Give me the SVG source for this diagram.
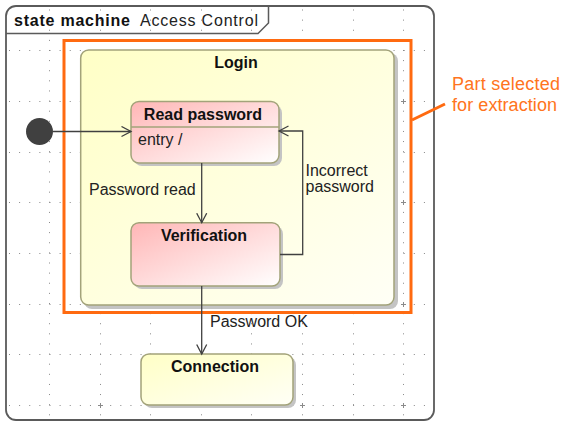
<svg xmlns="http://www.w3.org/2000/svg" width="566" height="422" viewBox="0 0 566 422">
<defs>
<style>
.grid{stroke:#888888;stroke-width:1;stroke-dasharray:1 9.12;fill:none}
.cross{stroke:#8a8a8a;stroke-width:1;fill:none}
.node{stroke:#a3a37a;stroke-width:1.5}
.shadow{fill:#c4c4c4}
.conn{stroke:#404040;stroke-width:1.3;fill:none}
.b{font-family:"Liberation Sans",Arial,sans-serif;font-weight:bold;font-size:16px;fill:#111}
.t{font-family:"Liberation Sans",Arial,sans-serif;font-size:16px;fill:#222}
.o{font-family:"Liberation Sans",Arial,sans-serif;font-size:18px;fill:#ff7420}
</style>
<linearGradient id="pink" x1="0" y1="0" x2="1" y2="1">
<stop offset="0" stop-color="#ffb6b6"/>
<stop offset="1" stop-color="#ffffff"/>
</linearGradient>
<linearGradient id="yellow" x1="0" y1="0" x2="1" y2="1">
<stop offset="0" stop-color="#ffffc6"/>
<stop offset="1" stop-color="#fffff6"/>
</linearGradient>
<marker id="arr" markerUnits="userSpaceOnUse" markerWidth="14" markerHeight="14" refX="10" refY="6" orient="auto">
<path d="M0.5,1 L10,6 L0.5,11" fill="none" stroke="#404040" stroke-width="1.3"/>
</marker>
</defs>

<g id="frame-bg">
<rect x="6" y="6" width="428" height="414" rx="10" fill="#ffffff"/>
</g>

<g id="grid">
<path class="grid" d="M49.5,9.5V418 M100.5,9.5V418 M150.5,9.5V418 M201.5,9.5V418 M251.5,9.5V418 M302.5,9.5V418 M353.5,9.5V418 M403.5,9.5V418"/>
<path class="grid" d="M9,50.5H432 M9,101.5H432 M9,152.5H432 M9,202.5H432 M9,253.5H432 M9,304.5H432 M9,354.5H432 M9,405.5H432"/>
<path class="cross" d="M98,101.5h5M100.5,99v5 M199,101.5h5M201.5,99v5 M300,101.5h5M302.5,99v5 M401,101.5h5M403.5,99v5 M98,202.5h5M100.5,200v5 M199,202.5h5M201.5,200v5 M300,202.5h5M302.5,200v5 M401,202.5h5M403.5,200v5 M98,304.5h5M100.5,302v5 M199,304.5h5M201.5,302v5 M300,304.5h5M302.5,302v5 M401,304.5h5M403.5,302v5 M98,405.5h5M100.5,403v5 M199,405.5h5M201.5,403v5 M300,405.5h5M302.5,403v5 M401,405.5h5M403.5,403v5"/>
</g>

<g id="frame">
<rect x="6" y="6" width="428" height="414" rx="10" fill="none" stroke="#5a5a5a" stroke-width="1.8"/>
<path d="M6,33.5 H258 L268.5,23 V6" fill="none" stroke="#5a5a5a" stroke-width="1.5"/>
<text x="14" y="26" class="b" textLength="116" lengthAdjust="spacing">state machine</text>
<text x="140" y="26" class="t" textLength="118" lengthAdjust="spacing">Access Control</text>
</g>

<g id="selection">
<rect x="64" y="40.5" width="347" height="272" fill="none" stroke="#ff6a10" stroke-width="3"/>
<path d="M412,120 L445,104" fill="none" stroke="#ff6a10" stroke-width="3"/>
<text x="452" y="90" class="o" textLength="108" lengthAdjust="spacing">Part selected</text>
<text x="452" y="111" class="o" textLength="105" lengthAdjust="spacing">for extraction</text>
</g>

<g id="login">
<rect class="shadow" x="84" y="53" width="314" height="256" rx="8"/>
<rect class="node" x="80.7" y="50" width="313.3" height="255" rx="8" fill="url(#yellow)"/>
<text x="236" y="68" class="b" text-anchor="middle">Login</text>
</g>

<g id="read-password">
<rect class="shadow" x="134" y="105" width="148" height="61" rx="8"/>
<rect class="node" x="131" y="101.5" width="148" height="61.5" rx="8" fill="url(#pink)"/>
<line x1="131" y1="127" x2="279" y2="127" class="node"/>
<text x="203" y="119.5" class="b" text-anchor="middle">Read password</text>
<text x="138" y="145" class="t">entry /</text>
</g>

<g id="verification">
<rect class="shadow" x="134" y="226" width="149" height="63" rx="8"/>
<rect class="node" x="131" y="222.7" width="149" height="63.3" rx="8" fill="url(#pink)"/>
<text x="204" y="241" class="b" text-anchor="middle">Verification</text>
</g>

<g id="connection">
<rect class="shadow" x="144" y="357" width="152" height="51" rx="8"/>
<rect class="node" x="141" y="354" width="152" height="51" rx="8" fill="url(#yellow)"/>
<text x="215" y="372" class="b" text-anchor="middle">Connection</text>
</g>

<g id="initial">
<circle cx="39.5" cy="131.5" r="13.5" fill="#404040"/>
</g>

<g id="connectors">
<path class="conn" d="M53,131.5 H131" marker-end="url(#arr)"/>
<path class="conn" d="M201.7,163 V222.7" marker-end="url(#arr)"/>
<path class="conn" d="M280,254.5 H302.7 V131 H279" marker-end="url(#arr)"/>
<path class="conn" d="M201.7,286 V354" marker-end="url(#arr)"/>
<text x="89" y="195" class="t">Password read</text>
<text x="305.5" y="176" class="t">Incorrect</text>
<text x="305.5" y="192" class="t">password</text>
<text x="210" y="327" class="t">Password OK</text>
</g>
</svg>
